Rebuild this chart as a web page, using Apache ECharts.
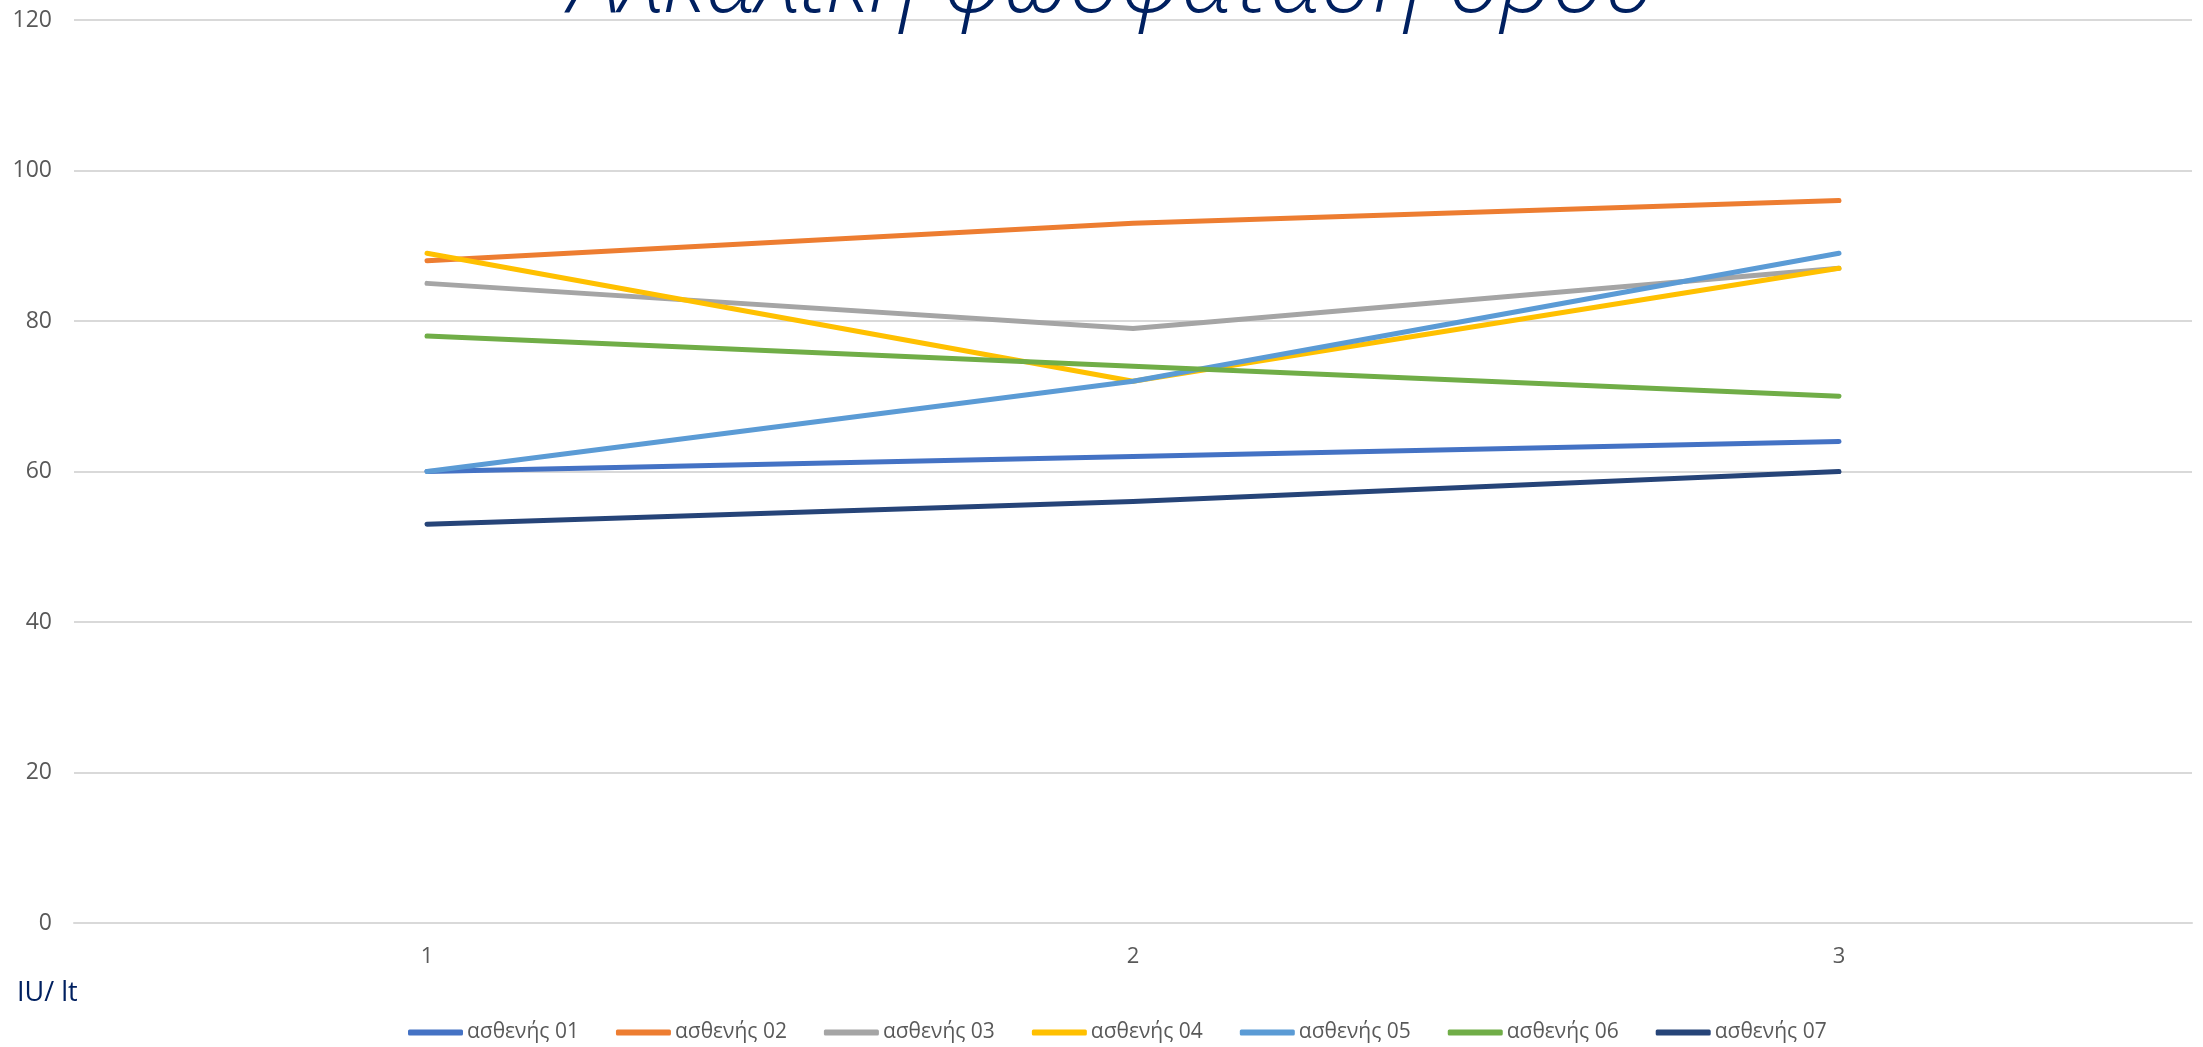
<!DOCTYPE html>
<html>
<head>
<meta charset="utf-8">
<script src="https://cdn.jsdelivr.net/npm/echarts@6/dist/echarts.min.js"></script>
<style>
html,body{margin:0;padding:0;background:#fff;}
#chart{width:2203px;height:1047px;}
</style>
</head>
<body>
<div id="chart"></div>
<script>
const titleText = 'Αλκαλική φωσφατάση ορού';
const unitLabel = 'IU/ lt';
const categories = ['1', '2', '3'];
const yTicks = [0, 20, 40, 60, 80, 100, 120];
const seriesNames = ['ασθενής 01', 'ασθενής 02', 'ασθενής 03', 'ασθενής 04', 'ασθενής 05', 'ασθενής 06', 'ασθενής 07'];
const patient01 = [60, 62, 64];
const patient02 = [88, 93, 96];
const patient03 = [85, 79, 87];
const patient04 = [89, 72, 87];
const patient05 = [60, 72, 89];
const patient06 = [78, 74, 70];
const patient07 = [53, 56, 60];
const seriesData = [patient01, patient02, patient03, patient04, patient05, patient06, patient07];
const colors = ['#4472C4', '#ED7D31', '#A5A5A5', '#FFC000', '#5B9BD5', '#70AD47', '#264478'];

const chart = echarts.init(document.getElementById('chart'), null, {renderer: 'canvas'});
const option = {
  animation: false,
  backgroundColor: '#ffffff',
  color: colors,
  title: {
    text: titleText,
    left: 569,
    top: -60,
    padding: 0,
    textStyle: {
      fontFamily: 'Open Sans',
      fontStyle: 'italic',
      fontWeight: 300,
      fontSize: 92,
      lineHeight: 92,
      color: '#002060'
    }
  },
  graphic: [{
    type: 'text',
    left: 17,
    top: 980,
    style: {
      text: unitLabel,
      fontFamily: 'Open Sans',
      fontSize: 27,
      fill: '#002060'
    }
  }],
  legend: {
    data: seriesNames,
    left: 403,
    top: 1017,
    icon: 'roundRect',
    itemWidth: 55,
    itemHeight: 6,
    itemGap: 37,
    textStyle: {
      fontFamily: 'Open Sans',
      fontSize: 21,
      color: '#595959',
      padding: [0, 0, 0, -1]
    }
  },
  grid: {
    left: 74,
    right: 11,
    top: 20,
    bottom: 124,
    containLabel: false
  },
  xAxis: {
    type: 'category',
    data: categories,
    boundaryGap: true,
    axisLine: {show: true, lineStyle: {color: '#D9D9D9', width: 2}},
    axisTick: {show: false},
    axisLabel: {
      fontFamily: 'Open Sans',
      fontSize: 22,
      color: '#595959',
      margin: 23
    }
  },
  yAxis: {
    type: 'value',
    min: yTicks[0],
    max: yTicks[yTicks.length - 1],
    interval: yTicks[1] - yTicks[0],
    axisLine: {show: false},
    axisTick: {show: false},
    splitLine: {lineStyle: {color: '#D9D9D9', width: 2}},
    axisLabel: {
      fontFamily: 'Open Sans',
      fontSize: 23,
      color: '#595959',
      margin: 22
    }
  },
  series: seriesNames.map((name, i) => ({
    name: name,
    type: 'line',
    data: seriesData[i],
    showSymbol: false,
    symbol: 'none',
    smooth: false,
    lineStyle: {width: 5, color: colors[i], cap: 'round', join: 'round'},
    itemStyle: {color: colors[i]},
    z: 2 + i
  }))
};
chart.setOption(option);
</script>
</body>
</html>
